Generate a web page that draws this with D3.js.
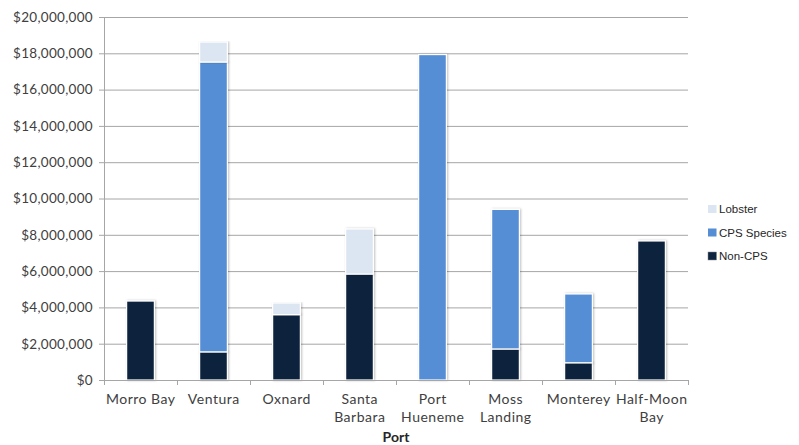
<!DOCTYPE html>
<html><head><meta charset="utf-8">
<script src="https://cdn.jsdelivr.net/npm/d3@7"></script>
<style>body{margin:0;background:#fff}svg{display:block}</style>
</head><body>
<svg id="c" width="799" height="445"></svg>
<script>
const ports = [["Morro Bay"],["Ventura"],["Oxnard"],["Santa","Barbara"],["Port","Hueneme"],["Moss","Landing"],["Monterey"],["Half-Moon","Bay"]];
const portKeys = ports.map(p => p.join(" "));
const nonCPS  = [4350000, 1550000, 3600000, 5840000, 0, 1710000, 950000, 7660000];
const cps     = [0, 15970000, 0, 0, 17930000, 7690000, 3790000, 0];
const lobster = [0, 1100000, 640000, 2480000, 0, 0, 0, 0];
const yTicks = [0,2e6,4e6,6e6,8e6,10e6,12e6,14e6,16e6,18e6,20e6];
const seriesNames = ["Non-CPS","CPS Species","Lobster"];
const colors = {"Non-CPS":"#0f243e","CPS Species":"#558ed5","Lobster":"#dce6f2"};

const svg = d3.select("#c");
const m = {l:104, r:111, t:17, b:65};
const W = 799, H = 445;
const x = d3.scaleBand().domain(portKeys).range([m.l, W-m.r]).paddingInner(0.62).paddingOuter(0.31);
const y = d3.scaleLinear().domain([0,20e6]).range([H-m.b, m.t]);
const font = "Lato, 'Open Sans', sans-serif";

const rows = portKeys.map((k,i)=>({port:k,"Non-CPS":nonCPS[i],"CPS Species":cps[i],"Lobster":lobster[i]}));
const stacked = d3.stack().keys(seriesNames)(rows);

// gridlines
svg.append("g").selectAll("line").data(yTicks.slice(1)).join("line")
  .attr("x1", m.l-5).attr("x2", W-m.r).attr("y1", d=>y(d)+0.5).attr("y2", d=>y(d)+0.5)
  .attr("stroke","#a6a6a6").attr("stroke-width",1);
// y labels
svg.append("g").selectAll("text").data(yTicks).join("text")
  .attr("x", m.l-11).attr("y", d=>y(d)+4.8).attr("text-anchor","end")
  .attr("font-family", font).attr("font-size", 13.5).attr("letter-spacing",0.3).attr("fill","#404040")
  .text(d=>"$"+d3.format(",")(d));

// bars
const defs = svg.append("defs");
const f = defs.append("filter").attr("id","sh").attr("x","-20%").attr("y","-5%").attr("width","140%").attr("height","110%");
f.append("feDropShadow").attr("dx",1).attr("dy",0).attr("stdDeviation",1).attr("flood-color","#000").attr("flood-opacity",0.25);

svg.append("g").selectAll("g").data(stacked).join("g")
  .attr("fill", d=>colors[d.key])
  .selectAll("rect").data(d=>d.filter(s=>s[1]-s[0]>0)).join("rect")
  .attr("x", d=>x(d.data.port)).attr("width", x.bandwidth())
  .attr("y", d=>y(d[1])).attr("height", d=>y(d[0])-y(d[1]))
  .attr("stroke","#ffffff").attr("stroke-width",1.2)
  .attr("filter","url(#sh)");

// axes lines
svg.append("line").attr("x1",m.l+0.5).attr("x2",m.l+0.5).attr("y1",m.t).attr("y2",H-m.b)
  .attr("stroke","#a6a6a6");
svg.append("line").attr("x1",m.l-5).attr("x2",W-m.r).attr("y1",y(0)+0.5).attr("y2",y(0)+0.5)
  .attr("stroke","#a6a6a6");
// x ticks at band boundaries
const bounds = d3.range(portKeys.length+1).map(i=>m.l + i*(W-m.r-m.l)/portKeys.length);
svg.append("g").selectAll("line").data(bounds).join("line")
  .attr("x1", d=>Math.round(d)+0.5).attr("x2", d=>Math.round(d)+0.5)
  .attr("y1", y(0)).attr("y2", y(0)+5).attr("stroke","#a6a6a6");

// x labels
const xl = svg.append("g").selectAll("text").data(ports).join("text")
  .attr("text-anchor","middle").attr("font-family", font).attr("font-size",14).attr("letter-spacing",0.5).attr("fill","#404040")
  .attr("transform",(d,i)=>`translate(${x(portKeys[i])+x.bandwidth()/2+0.25},${y(0)+24})`);
xl.selectAll("tspan").data(d=>d).join("tspan").attr("x",0).attr("dy",(d,i)=>i?18:0).text(d=>d);

// axis title
svg.append("text").attr("x",(m.l+W-m.r)/2).attr("y",442).attr("text-anchor","middle")
  .attr("font-family", font).attr("font-weight","bold").attr("font-size",14).attr("fill","#262626").text("Port");

// legend
const leg = svg.append("g").attr("transform","translate(708,209)");
const legItems = ["Lobster","CPS Species","Non-CPS"];
legItems.forEach((k,i)=>{
  const g = leg.append("g").attr("transform",`translate(0,${i*23.5})`);
  g.append("rect").attr("x",0).attr("y",-4).attr("width",8.5).attr("height",8).attr("fill",colors[k])
    .attr("stroke", k==="Non-CPS" ? "#888" : "none").attr("stroke-width",0.5);
  g.append("text").attr("x",11).attr("y",4.2).attr("font-family","'Liberation Sans', Carlito, sans-serif")
    .attr("font-size",11.5).attr("fill","#262626").text(k);
});
</script>
</body></html>
